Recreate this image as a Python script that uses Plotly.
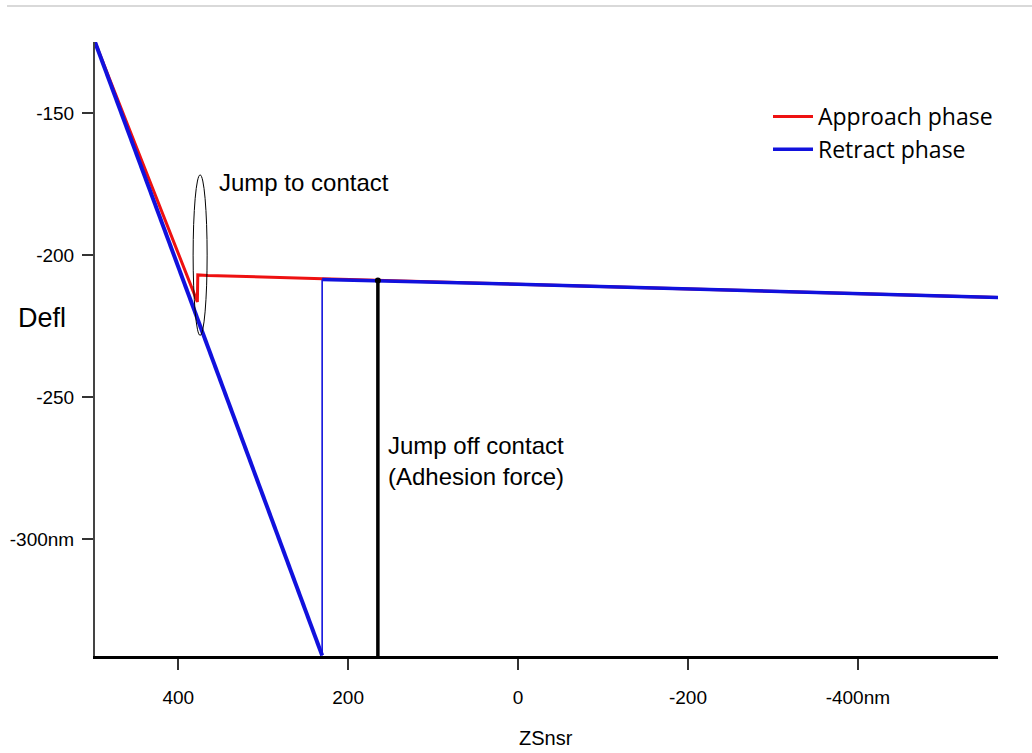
import plotly.graph_objects as go

# Force curve: cantilever deflection vs. Z sensor position (nm)
approach_x = [498, 378, 377.5, 377, 365, 230, 0, -200, -400, -565]
approach_y = [-125, -216.5, -216.5, -207, -207.2, -208.4, -210.3, -212.0, -213.6, -215.0]

retract_x = [-565, -400, -200, 0, 230.6, 230.6, 498]
retract_y = [-215.0, -213.6, -212.0, -210.3, -208.6, -341, -125]

x_ticks = [400, 200, 0, -200, -400]
x_tick_text = ["400", "200", "0", "-200", "-400nm"]
y_ticks = [-150, -200, -250, -300]
y_tick_text = ["-150", "-200", "-250", "-300nm"]

adhesion_x = 165
adhesion_top = -209
adhesion_bottom = -342.5

RED = "#ee1111"
BLUE = "#1111dd"
TEXT_FONT = "Liberation Sans, Arial, sans-serif"
TICK_FONT = "Liberation Sans, Arial, sans-serif"

# plot area in pixels, used to place paper-anchored labels
L, R, T, B = 95, 998, 42, 656


def px(xp):
    return (xp - L) / (R - L)


def py(yp):
    return (B - yp) / (B - T)


fig = go.Figure()

fig.add_trace(go.Scatter(
    x=approach_x, y=approach_y, mode="lines", name="Approach phase",
    line=dict(color=RED, width=3),
))

# retract curve: flat contact-free part, thin jump-off drop, then steep contact slope
fig.add_trace(go.Scatter(
    x=retract_x[:5], y=retract_y[:5], mode="lines", name="Retract phase",
    line=dict(color=BLUE, width=3.5), legendgroup="retract",
))
fig.add_trace(go.Scatter(
    x=retract_x[4:6], y=retract_y[4:6], mode="lines", showlegend=False,
    line=dict(color=BLUE, width=1.6), legendgroup="retract",
))
fig.add_trace(go.Scatter(
    x=retract_x[5:], y=retract_y[5:], mode="lines", showlegend=False,
    line=dict(color=BLUE, width=4), legendgroup="retract",
))

# adhesion force marker
fig.add_shape(type="line", xref="x", yref="y",
              x0=adhesion_x, x1=adhesion_x, y0=adhesion_top, y1=adhesion_bottom,
              line=dict(color="black", width=3.5))
fig.add_trace(go.Scatter(
    x=[adhesion_x, adhesion_x], y=[adhesion_top, adhesion_bottom], mode="markers",
    marker=dict(color="black", size=6), showlegend=False, cliponaxis=False,
))

# ellipse around the jump-to-contact event
fig.add_shape(type="circle", xref="x", yref="y",
              x0=382.5, x1=366, y0=-171.8, y1=-228.3,
              line=dict(color="black", width=1))

# thin separator line along the top
fig.add_shape(type="line", xref="paper", yref="paper",
              x0=px(7), x1=px(1032), y0=py(6), y1=py(6),
              line=dict(color="#cccccc", width=1.5))

fig.add_annotation(text="Jump to contact", x=px(217), y=py(182),
                   xref="paper", yref="paper", xanchor="left", yanchor="middle",
                   showarrow=False, font=dict(family=TEXT_FONT, size=24, color="black"))
fig.add_annotation(text="Jump off contact<br>(Adhesion force)",
                   x=px(386), y=py(461),
                   xref="paper", yref="paper", xanchor="left", yanchor="middle",
                   align="left", showarrow=False,
                   font=dict(family=TEXT_FONT, size=24, color="black"))
fig.add_annotation(text="Defl", x=px(16), y=py(318),
                   xref="paper", yref="paper", xanchor="left", yanchor="middle",
                   showarrow=False, font=dict(family=TEXT_FONT, size=27, color="black"))
fig.add_annotation(text="ZSnsr", x=px(546), y=py(738),
                   xref="paper", yref="paper", xanchor="center", yanchor="middle",
                   showarrow=False, font=dict(family=TICK_FONT, size=20, color="black"))

fig.update_layout(
    width=1032, height=753,
    margin=dict(l=L, r=1032 - R, t=T, b=753 - B, autoexpand=False),
    paper_bgcolor="white", plot_bgcolor="white",
    showlegend=True,
    legend=dict(x=px(768), y=py(95), xanchor="left", yanchor="top",
                bgcolor="rgba(0,0,0,0)", borderwidth=0,
                font=dict(family="Open Sans, sans-serif", size=23, color="black"),
                itemwidth=40, tracegroupgap=0),
    xaxis=dict(range=[498, -565], showgrid=False, zeroline=False, automargin=False,
               showline=True, linecolor="black", linewidth=2.5,
               ticks="outside", ticklen=11, tickwidth=1.5, tickcolor="#333",
               tickvals=x_ticks, ticktext=x_tick_text, ticklabelstandoff=11,
               tickfont=dict(family=TICK_FONT, size=19, color="black")),
    yaxis=dict(range=[-341.2, -125], showgrid=False, zeroline=False, automargin=False,
               showline=True, linecolor="#444", linewidth=2,
               ticks="outside", ticklen=11, tickwidth=2, tickcolor="#333",
               tickvals=y_ticks, ticktext=y_tick_text, ticklabelstandoff=4,
               tickfont=dict(family=TICK_FONT, size=19, color="black")),
)

fig.write_html("out.html")
